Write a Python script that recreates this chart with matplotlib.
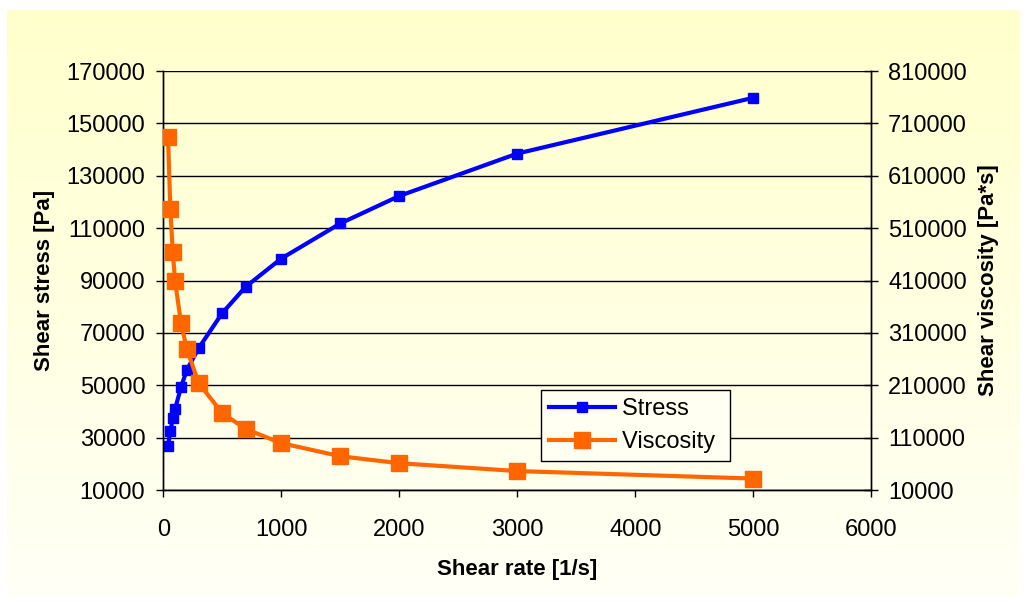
import matplotlib
matplotlib.use("Agg")
import matplotlib.pyplot as plt
import numpy as np

plt.rcParams['font.family'] = ['Liberation Sans', 'DejaVu Sans']

# shear rate [1/s]
rate = [40, 60, 80, 100, 150, 200, 300, 500, 700, 1000, 1500, 2000, 3000, 5000]
# shear stress [Pa]
stress = [27000, 32400, 37400, 40900, 49300, 55900, 64200, 77600, 87700,
          98400, 111800, 122300, 138500, 159800]
# shear viscosity [Pa*s]
viscosity = [684600, 546600, 465200, 409200, 328500, 278900, 214000, 156800,
             126200, 99500, 74500, 61200, 46200, 31900]

xticks = np.arange(0, 6001, 1000)
yticks_left = np.arange(10000, 170001, 20000)
yticks_right = np.arange(10000, 810001, 100000)

fig = plt.figure(figsize=(10.27, 6.02), dpi=100)
fig.patch.set_facecolor('white')

# chart area background: yellow fading to near white
bg = fig.add_axes([0, 0, 1, 1], zorder=-10)
bg.set_xlim(0, 1027)
bg.set_ylim(602, 0)
bg.axis('off')
grad = np.linspace(0, 1, 256).reshape(-1, 1)
top = np.array([1.0, 1.0, 0.80])
bot = np.array([1.0, 1.0, 0.965])
img = top + (bot - top) * grad[:, :, None]
bg.imshow(img, extent=(7, 1020, 597, 10), aspect='auto')

ax = fig.add_axes([0.159, 0.186, 0.6895, 0.696])
ax.set_facecolor('none')
ax2 = ax.twinx()

l1, = ax.plot(rate, stress, color='#0000FF', lw=3, marker='s', ms=7,
              label='Stress ', zorder=3)
l2, = ax2.plot(rate, viscosity, color='#FF6600', lw=3, marker='s', ms=11,
               label='Viscosity ', zorder=3)

ax.set_xlim(0, 6000)
ax.set_ylim(10000, 170000)
ax2.set_ylim(10000, 810000)
ax.set_xticks(xticks)
ax.set_yticks(yticks_left)
ax2.set_yticks(yticks_right)

ax.grid(axis='y', color='black', lw=1)
ax.set_axisbelow(True)

for a in (ax, ax2):
    a.spines['top'].set_visible(False)
    for s in a.spines.values():
        s.set_color('black')
        s.set_linewidth(1)

ax.tick_params(axis='x', direction='out', length=5, width=1, pad=16, labelsize=17)
ax.tick_params(axis='y', direction='out', length=5, width=1, pad=8, labelsize=17)
ax2.tick_params(axis='y', direction='inout', length=10, width=1, pad=7, labelsize=17)

ax.set_xlabel('Shear rate [1/s]', fontsize=16, fontweight='bold', labelpad=13)
ax.set_ylabel('Shear stress [Pa]', fontsize=16, fontweight='bold', labelpad=8)
ax2.set_ylabel('Shear viscosity [Pa*s]', fontsize=16, fontweight='bold', labelpad=8)

leg = ax2.legend(handles=[l1, l2], loc='lower left',
                 bbox_to_anchor=(0.533, 0.069), borderaxespad=0, fontsize=17,
                 frameon=True, fancybox=False, edgecolor='black',
                 facecolor='#FFFFF2', framealpha=1, handlelength=2.8,
                 handletextpad=0.3, borderpad=0.35, labelspacing=0.45)
leg.get_frame().set_linewidth(1)

fig.savefig('out.png', dpi=100)
